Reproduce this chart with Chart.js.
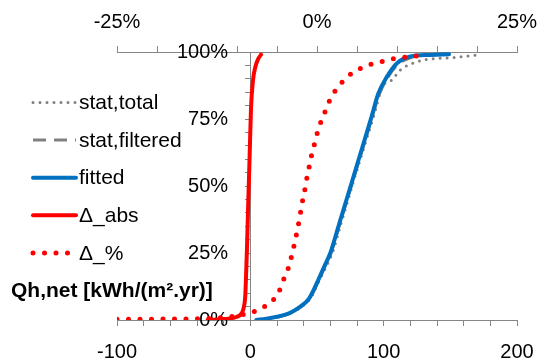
<!DOCTYPE html>
<html>
<head>
<meta charset="utf-8">
<script src="https://cdn.jsdelivr.net/npm/chart.js@4.4.1/dist/chart.umd.min.js"></script>
<style>
  html, body { margin: 0; padding: 0; background: #fff; }
  canvas { display: block; }
</style>
</head>
<body>
<canvas id="cdfChart" width="537" height="360"></canvas>
<script>
// Qh,net [kWh/(m².yr)] against cumulative share [%]
const totalQ = [5.5, 13, 21, 30, 38.5, 45, 52, 57, 61.5, 68, 74, 77.5, 82.5, 86.8, 92.5, 99, 106, 112.5, 118.5, 130, 141, 154, 170.5];
const totalP = [0, 0.5, 1.2, 2.5, 5, 8, 15, 20, 25, 36, 46, 52, 60, 67, 76, 87, 89.5, 93.3, 95.1, 97, 97.6, 98, 98.9];

const filteredQ = [5, 12.5, 20.5, 29.5, 38, 44.5, 51.5, 56, 60.5, 67.2, 73.3, 77, 81.8, 86.2, 91.5, 97, 103.5, 111, 121, 133];
const filteredP = [0, 0.5, 1.2, 2.5, 5, 8, 15, 20, 25, 36, 46, 52, 60, 67, 76, 84.5, 90.8, 95.5, 98, 98.9];

const fittedQ = [4.5, 12, 20, 29, 37.5, 44, 51, 55.5, 60, 66.7, 72.8, 76.5, 81.3, 85.6, 91, 96, 102.5, 110, 120, 135, 149];
const fittedP = [0, 0.5, 1.2, 2.5, 5, 8, 15, 20, 25, 36, 46, 52, 60, 67, 76, 84.5, 90.8, 95.8, 98.3, 98.9, 99.2];

// absolute difference, bottom axis
const absQ = [-32, -25, -15, -10, -6.5, -5, -3.8, -3.1, -2.5, -1.5, -0.7, 0.5, 2, 3.8, 6, 8];
const absP = [0, 0.2, 0.6, 1.2, 2.5, 4.5, 9, 18, 27, 45, 58, 79, 89.5, 94.5, 97.5, 99];

// relative difference [%], top axis
const pctQ = [-25, -14, -11, -8.3, -6.9, -5.75, -4.8, -4.3, -3.7, -3.3, -2.95, -2.65, -2.35, -2.1, -1.85, -1.55, -1.3, -1.0, -0.7, -0.35, 0, 0.45, 1.0, 1.55, 2.25, 3.15, 4.2, 5.45, 6.75, 8.1, 9.45, 10.9, 12.3, 13.7];
const pctP = [0.3, 0.5, 1.2, 2.7, 4.4, 6.8, 10.2, 14.3, 18.4, 22.4, 26.7, 30.8, 35.2, 39.4, 43.8, 48.1, 52.5, 56.8, 61.2, 65.3, 69.4, 73.6, 77.7, 81.7, 85.4, 88.8, 91.7, 93.9, 95.4, 96.4, 97.4, 98, 98.5, 98.9];

const seriesLabels = ['stat,total', 'stat,filtered', 'fitted', 'Δ_abs', 'Δ_%'];
const axisTitle = 'Qh,net [kWh/(m².yr)]';

const toPoints = (xs, ys) => xs.map((x, i) => ({ x: x, y: ys[i] }));

const axisGrey = '#868686';
const fontFamily = '"Liberation Sans", Arial, sans-serif';

// legend and axis title sit in the left margin
const sideLabels = {
    id: 'sideLabels',
    afterDraw(chart) {
        const ctx = chart.ctx;
        ctx.save();
        chart.data.datasets.forEach((ds, i) => {
            const y = 102.5 + i * 37.6;
            ctx.beginPath();
            ctx.strokeStyle = ds.borderColor;
            ctx.lineWidth = ds.borderWidth;
            ctx.lineCap = ds.borderCapStyle || 'butt';
            ctx.setLineDash(ds.borderDash || []);
            ctx.moveTo(33, y);
            ctx.lineTo(76, y);
            ctx.stroke();
            ctx.setLineDash([]);
            ctx.fillStyle = '#000';
            ctx.font = '21px ' + fontFamily;
            ctx.textBaseline = 'middle';
            ctx.textAlign = 'left';
            ctx.fillText(ds.label, 79, y + 1);
        });
        ctx.font = 'bold 21px ' + fontFamily;
        ctx.textBaseline = 'middle';
        ctx.fillText(axisTitle, 11, 291);
        ctx.restore();
    }
};

const ctx = document.getElementById('cdfChart').getContext('2d');
new Chart(ctx, {
    type: 'scatter',
    data: {
        datasets: [{
            label: seriesLabels[0],
            data: toPoints(totalQ, totalP),
            borderColor: '#808080',
            borderWidth: 3,
            borderDash: [0, 7],
            borderCapStyle: 'round',
            order: 5
        }, {
            label: seriesLabels[1],
            data: toPoints(filteredQ, filteredP),
            borderColor: '#808080',
            borderWidth: 3,
            borderDash: [13, 8],
            order: 4
        }, {
            label: seriesLabels[2],
            data: toPoints(fittedQ, fittedP),
            borderColor: '#0070C0',
            borderWidth: 4,
            borderCapStyle: 'round',
            order: 3
        }, {
            label: seriesLabels[3],
            data: toPoints(absQ, absP),
            borderColor: '#FF0000',
            borderWidth: 4,
            borderCapStyle: 'round',
            order: 2
        }, {
            label: seriesLabels[4],
            data: toPoints(pctQ, pctP),
            xAxisID: 'x2',
            borderColor: '#FF0000',
            borderWidth: 5,
            borderDash: [0, 11.5],
            borderCapStyle: 'round',
            order: 1
        }].map(ds => Object.assign({
            showLine: true,
            pointRadius: 0,
            cubicInterpolationMode: 'monotone',
            fill: false
        }, ds))
    },
    options: {
        responsive: false,
        animation: false,
        layout: {
            padding: { left: 117, right: 20, top: 0, bottom: 0 }
        },
        plugins: {
            legend: { display: false },
            tooltip: { enabled: false }
        },
        scales: {
            x: {
                type: 'linear',
                position: 'bottom',
                min: -100,
                max: 200,
                afterFit: s => { s.height = 40; s.paddingLeft = 0; s.paddingRight = 0; },
                border: { color: axisGrey, width: 1 },
                grid: { drawOnChartArea: false, color: axisGrey, tickLength: 6 },
                ticks: {
                    stepSize: 20,
                    autoSkip: false,
                    maxRotation: 0,
                    padding: 14,
                    color: '#000',
                    font: { family: fontFamily, size: 20 },
                    callback: v => (v % 100 === 0 ? String(v) : '')
                }
            },
            x2: {
                type: 'linear',
                position: 'top',
                min: -25,
                max: 25,
                afterFit: s => { s.height = 52; s.paddingLeft = 0; s.paddingRight = 0; },
                border: { color: axisGrey, width: 1 },
                grid: { drawOnChartArea: false, color: axisGrey, tickLength: 6 },
                ticks: {
                    stepSize: 5,
                    autoSkip: false,
                    maxRotation: 0,
                    padding: 12,
                    color: '#000',
                    font: { family: fontFamily, size: 20 },
                    callback: v => (v % 25 === 0 ? v + '%' : '')
                }
            },
            y: {
                type: 'linear',
                position: { x: 0 },
                min: 0,
                max: 100,
                border: { color: axisGrey, width: 1 },
                grid: { drawOnChartArea: false, color: axisGrey, tickLength: 5 },
                ticks: {
                    stepSize: 5,
                    autoSkip: false,
                    color: '#000',
                    font: { family: fontFamily, size: 20 },
                    // trailing spaces keep the labels clear of the axis line at x = 0
                    callback: v => (v % 25 === 0 ? v + '%    ' : '')
                }
            }
        }
    },
    plugins: [sideLabels]
});
</script>
</body>
</html>
